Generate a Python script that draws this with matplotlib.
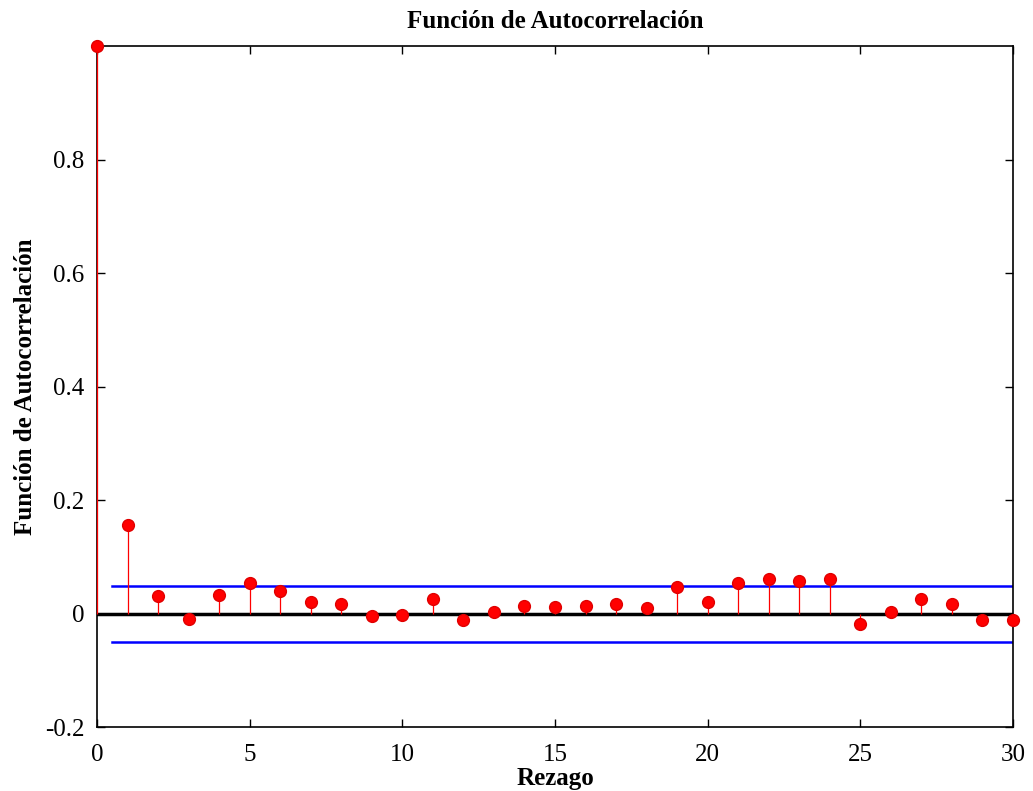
import matplotlib.pyplot as plt
import numpy as np

plt.rcParams['font.family'] = ['Liberation Serif', 'DejaVu Serif']

lags = list(range(0, 31))
acf = [1.0, 0.156, 0.030, -0.009, 0.033, 0.053, 0.040, 0.021, 0.016, -0.005,
       -0.002, 0.025, -0.012, 0.003, 0.014, 0.011, 0.014, 0.016, 0.009, 0.046,
       0.021, 0.054, 0.060, 0.058, 0.061, -0.018, 0.003, 0.026, 0.016, -0.012,
       -0.011]
banda_sup = 0.049
banda_inf = -0.051

fig = plt.figure(figsize=(10.33, 7.91), dpi=100)
ax = fig.add_axes([0.0939, 0.0809, 0.8867, 0.8609])

ax.plot([0, 30], [0, 0], color='black', lw=2.5, zorder=1)
ax.plot([0.5, 30], [banda_sup, banda_sup], color='blue', lw=1.8, zorder=1)
ax.plot([0.5, 30], [banda_inf, banda_inf], color='blue', lw=1.8, zorder=1)

ax.vlines(lags, 0, acf, color='red', lw=0.9, zorder=2.6, clip_on=False)
ax.plot(lags, acf, 'o', color='red', markersize=8.5, markeredgecolor='#e00000',
        zorder=3, clip_on=False)

ax.set_xlim(0, 30)
ax.set_ylim(-0.2, 1.0)
ax.set_xticks([0, 5, 10, 15, 20, 25, 30])
ax.set_yticks([-0.2, 0, 0.2, 0.4, 0.6, 0.8])
ax.set_yticklabels(['-0.2', '0', '0.2', '0.4', '0.6', '0.8'])
ax.tick_params(direction='in', length=6, labelsize=18, width=1,
               top=True, right=True)
ax.tick_params(axis='x', pad=12)
ax.tick_params(axis='y', pad=9)
for s in ax.spines.values():
    s.set_linewidth(1.2)

ax.set_title('Función de Autocorrelación', fontsize=18, fontweight='bold', pad=13)
ax.set_xlabel('Rezago', fontsize=18, fontweight='bold', labelpad=1)
ax.set_ylabel('Función de Autocorrelación', fontsize=18, fontweight='bold', labelpad=6)

fig.savefig('out.png', dpi=100)
